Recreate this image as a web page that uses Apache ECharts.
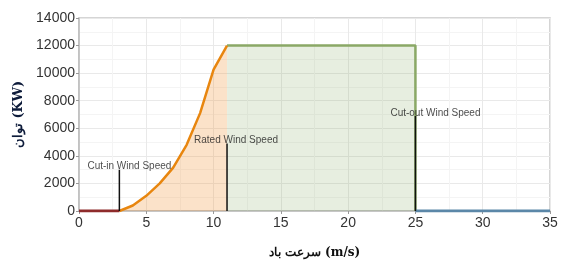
<!DOCTYPE html>
<html>
<head>
<meta charset="utf-8">
<script src="https://cdn.jsdelivr.net/npm/echarts@6/dist/echarts.min.js"></script>
<style>
  html, body { margin: 0; padding: 0; background: #fff; }
  #main { width: 561px; height: 264px; }
</style>
</head>
<body>
<div id="main"></div>
<script>
// power curve (m/s -> KW)
const offSpeed = [0, 3]
const offPower = [0, 0]
const curveSpeed = [3, 4, 5, 6, 7, 8, 9, 10, 11]
const curvePower = [0, 400, 1100, 2000, 3150, 4800, 7100, 10250, 12000]
const ratedSpeed = [11, 25, 25]
const ratedPower = [12000, 12000, 0]
const cutSpeed = [25, 35]
const cutPower = [0, 0]

// marker lines
const markerX = [3, 11, 25]
const markerTop = [3000, 4900, 6900]
const markerLabels = ['Cut-in Wind Speed', 'Rated Wind Speed', 'Cut-out Wind Speed']
const markerOffset = [[10, 3], [9, 3], [20, 3]]

const pairs = (xs, ys) => xs.map((x, i) => [x, ys[i]])

var myChart = echarts.init(document.getElementById('main'))

const markerSeries = markerX.map((x, i) => {
  return {
    type: 'line',
    data: [[x, 0], [x, markerTop[i]]],
    symbol: 'none',
    lineStyle: { color: '#111', width: 1.5 },
    z: 5,
  }
})

const labelSeries = {
  type: 'scatter',
  symbolSize: 0,
  z: 6,
  data: markerX.map((x, i) => ({
    value: [x, markerTop[i]],
    label: { offset: markerOffset[i] },
  })),
  label: {
    show: true,
    position: 'top',
    distance: 1,
    formatter: (p) => markerLabels[p.dataIndex],
    color: '#1a1a1a',
    fontSize: 10,
    fontFamily: 'Liberation Sans, Arial, sans-serif',
  },
  emphasis: { disabled: true },
}

const plainNum = (v) => String(v)

let option = {
  animation: false,
  grid: {
    left: 79,
    right: 11,
    top: 18,
    bottom: 45,
    show: true,
    borderColor: '#c8c8c8',
    borderWidth: 1.5,
  },
  xAxis: {
    type: 'value',
    min: 0,
    max: 35,
    interval: 5,
    name: 'سرعت باد (m/s)',
    nameLocation: 'middle',
    nameGap: 36,
    nameTextStyle: {
      fontFamily: 'DejaVu Serif, Liberation Serif, serif',
      fontWeight: 'bold',
      fontSize: 12,
      color: '#111',
    },
    axisLine: { show: true, lineStyle: { color: '#bbb', width: 1.5 } },
    axisTick: { show: true, length: 3, lineStyle: { color: '#999' } },
    axisLabel: {
      color: '#333',
      fontSize: 14,
      fontFamily: 'Liberation Sans, Arial, sans-serif',
      margin: 5,
      formatter: plainNum,
    },
    splitLine: { show: true, lineStyle: { color: '#e9e9e9', width: 1 } },
    minorTick: { show: false, splitNumber: 2 },
    minorSplitLine: { show: true, lineStyle: { color: '#f4f4f4', width: 1 } },
  },
  yAxis: {
    type: 'value',
    min: 0,
    max: 14000,
    interval: 2000,
    name: 'توان (KW)',
    nameLocation: 'middle',
    nameGap: 52,
    nameRotate: 90,
    nameTextStyle: {
      fontFamily: 'DejaVu Serif, Liberation Serif, serif',
      fontWeight: 'bold',
      fontSize: 13,
      color: '#0d1b3a',
    },
    axisLine: { show: true, lineStyle: { color: '#bbb', width: 1.5 } },
    axisTick: { show: true, length: 3, lineStyle: { color: '#999' } },
    axisLabel: {
      color: '#333',
      fontSize: 14,
      fontFamily: 'Liberation Sans, Arial, sans-serif',
      margin: 4,
      formatter: plainNum,
    },
    splitLine: { show: true, lineStyle: { color: '#e9e9e9', width: 1 } },
    minorTick: { show: false, splitNumber: 2 },
    minorSplitLine: { show: true, lineStyle: { color: '#f4f4f4', width: 1 } },
  },
  series: [
    {
      type: 'line',
      data: pairs(ratedSpeed, ratedPower),
      symbol: 'none',
      lineStyle: { color: '#8aa866', width: 2.5 },
      areaStyle: { color: 'rgba(120,160,80,0.25)', origin: 'start' },
      z: 2,
    },
    {
      type: 'line',
      data: pairs(curveSpeed, curvePower),
      symbol: 'none',
      lineStyle: { color: '#e8860f', width: 2.5 },
      areaStyle: { color: 'rgba(242,150,60,0.4)', origin: 'start' },
      z: 3,
    },
    {
      type: 'line',
      data: pairs(offSpeed, offPower),
      symbol: 'none',
      lineStyle: { color: '#8e2b2b', width: 3 },
      z: 4,
    },
    {
      type: 'line',
      data: pairs(cutSpeed, cutPower),
      symbol: 'none',
      lineStyle: { color: '#5b87a8', width: 3 },
      z: 4,
    },
    ...markerSeries,
    labelSeries,
  ],
}
myChart.setOption(option)
</script>
</body>
</html>
